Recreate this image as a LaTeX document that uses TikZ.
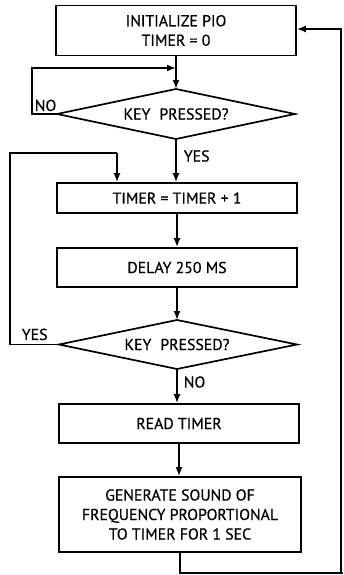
\documentclass[tikz,border=0pt]{standalone}
\usepackage{fontspec}
\newfontfamily\diagfont{PT Sans}[FakeBold=0.6]
\usetikzlibrary{arrows.meta}
\begin{document}
\begin{tikzpicture}[x=1pt,y=-1pt,
  line width=1.7pt,
  every node/.style={font=\diagfont\fontsize{15.8}{19.5}\selectfont},
  procbox/.style={draw,rectangle,minimum width=240pt,inner sep=0pt,align=center},
  dtext/.style={inner sep=0pt},
  lbl/.style={inner sep=0pt,draw=none},
  arr/.style={-{Latex[length=9pt,width=7pt]}},
  ]
\useasboundingbox (0,0) rectangle (343,575);
\node[procbox,minimum height=50pt] (init) at (176,30.5) {INITIALIZE PIO\\TIMER = 0};
\coordinate (m1) at (176,68);
% diamond 1
\node[dtext] (d1) at (176,114) {KEY\hspace{0.3em} PRESSED?};
\coordinate (d1n) at (176,89);
\coordinate (d1s) at (176,139);
\coordinate (d1w) at (57,114);
\coordinate (d1e) at (295,114);
\draw[line join=miter] (d1w) -- (d1n) -- (d1e) -- (d1s) -- cycle;
\node[procbox,minimum height=30pt] (inc) at (177,198) {TIMER = TIMER + 1};
\node[procbox,minimum height=39pt] (delay) at (177,267.5) {DELAY 250 MS};
% diamond 2
\node[dtext] (d2) at (177,344.5) {KEY\hspace{0.3em} PRESSED?};
\coordinate (d2n) at (177,320);
\coordinate (d2s) at (177,369);
\coordinate (d2w) at (59,344.5);
\coordinate (d2e) at (297,344.5);
\draw[line join=miter] (d2w) -- (d2n) -- (d2e) -- (d2s) -- cycle;
\node[procbox,minimum height=39pt] (read) at (179,423.5) {READ TIMER};
\node[procbox,minimum height=75pt,minimum width=242pt] (gen) at (180,514.5) {GENERATE SOUND OF\\FREQUENCY PROPORTIONAL\\TO TIMER FOR 1 SEC};
\coordinate (c1) at (32,68);
\coordinate (c2) at (10,153);
\coordinate (c3) at (117,153);
\coordinate (c5) at (341,573);
\coordinate (c6) at (341,29);
\coordinate (c7) at (343,573);
% main flow
\draw (init.south -| m1) -- (m1);
\draw[arr] (m1) -- (d1n);
\draw[arr] (d1s) -- (inc.north -| d1s);
\draw[arr] (inc.south -| d2n) -- (delay.north -| d2n);
\draw[arr] (delay.south -| d2n) -- (d2n);
\draw[arr] (d2s) -- (read.north -| d2s);
\draw[arr] (read.south) -- (gen.north -| read.south);
% NO loop
\draw[arr] (d1w) -| (c1) -- (m1);
% YES loop
\draw (d2w) -| (c2) -- (c3);
\draw[arr] (c3) -- (inc.north -| c3);
% return loop
\draw (gen.south) |- (c7);
\draw[arr] (c5) -- (c6) -- (init.east |- c6);
% labels
\node[lbl,anchor=south west] (no1) at (34,112) {NO};
\node[lbl,anchor=west] (yes1) at (183,156) {YES};
\node[lbl,anchor=south west] (yes2) at (21,341) {YES};
\node[lbl,anchor=west] (no2) at (183,382) {NO};
\end{tikzpicture}
\end{document}
